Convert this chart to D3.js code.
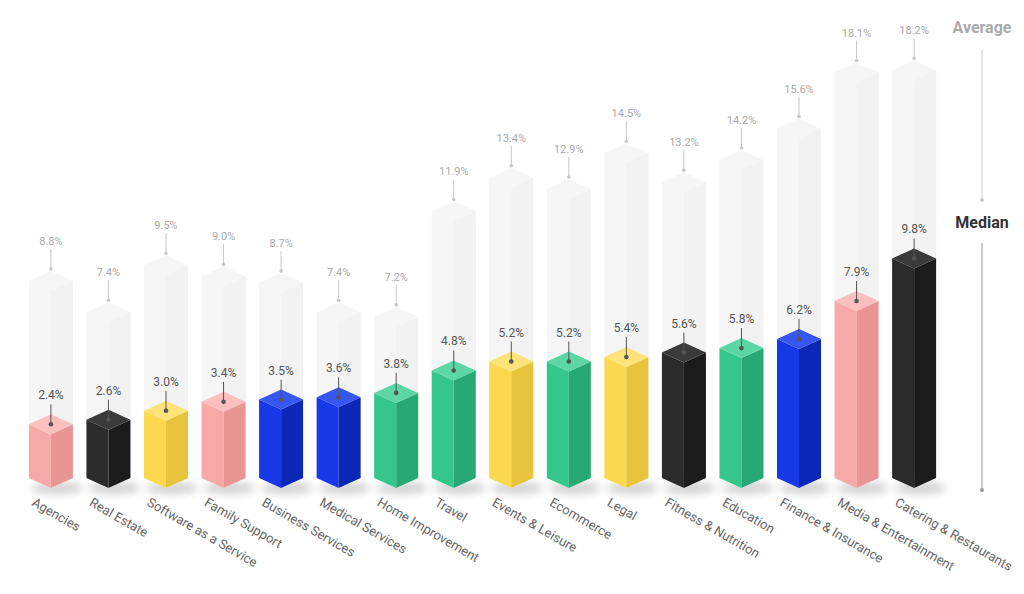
<!DOCTYPE html>
<html><head><meta charset="utf-8">
<script src="https://cdn.jsdelivr.net/npm/d3@7"></script>
<style>body{margin:0;background:#fff}svg{display:block;font-family:Roboto,"Open Sans",sans-serif}</style>
</head><body><div id="chart"></div>
<script>
const categories= ['Agencies','Real Estate','Software as a Service','Family Support','Business Services','Medical Services','Home Improvement','Travel','Events & Leisure','Ecommerce','Legal','Fitness & Nutrition','Education','Finance & Insurance','Media & Entertainment','Catering & Restaurants'];
const medians= [2.4,2.6,3.0,3.4,3.5,3.6,3.8,4.8,5.2,5.2,5.4,5.6,5.8,6.2,7.9,9.8];
const averages= [8.8,7.4,9.5,9.0,8.7,7.4,7.2,11.9,13.4,12.9,14.5,13.2,14.2,15.6,18.1,18.2];
const colorKeys= ['pink','black','yellow','pink','blue','blue','green','green','yellow','green','yellow','black','green','blue','pink','black'];

const PALETTE= {
  pink:   ['#f7a9a7','#e99593','#fbc0be'],
  black:  ['#2b2b2b','#1b1b1b','#3a3a3a'],
  yellow: ['#fbd84e','#e8c43c','#fde37a'],
  blue:   ['#1638e6','#0b27b5','#3556f0'],
  green:  ['#35c68c','#27a874','#5cd6a4'],
};

const W= 1024, H= 594;
const svg= d3.select('#chart').append('svg').attr('width', W).attr('height', H);

const x= d3.scaleBand().domain(categories).range([25, 940]).paddingInner(0.2).paddingOuter(0.05);
const y= d3.scaleLinear().domain([0, 20]).range([478, 30]);
const HW= 22, DH= 10;

const defs= svg.append('defs');
const f= defs.append('filter').attr('id','sh').attr('x','-50%').attr('y','-50%').attr('width','200%').attr('height','200%');
f.append('feGaussianBlur').attr('stdDeviation', 4);

const g= svg.selectAll('g.bar').data(categories.map((c,i)=>({c, m: medians[i], a: averages[i], k: colorKeys[i]})))
  .join('g').attr('class','bar')
  .attr('transform', d => `translate(${x(d.c)+x.bandwidth()/2},0)`);

// shadow
g.append('ellipse').attr('cx', 6).attr('cy', y(0)+10).attr('rx', 26).attr('ry', 6)
  .attr('fill','#000').attr('opacity',0.18).attr('filter','url(#sh)');

// average ghost bar
g.append('path').attr('fill','#f6f6f6')
  .attr('d', d => `M${-HW},${y(d.a)} L0,${y(d.a)-DH} L${HW},${y(d.a)} L${HW},${y(0)} L0,${y(0)+DH} L${-HW},${y(0)} Z`);
g.append('path').attr('fill','#f2f2f2')
  .attr('d', d => `M0,${y(d.a)+DH} L${HW},${y(d.a)} L${HW},${y(0)} L0,${y(0)+DH} Z`);

// median bar faces
const face= (d, side) => {
  const t= y(d.m), b= y(0);
  return side < 0
    ? `M${-HW},${t} L0,${t+DH} L0,${b+DH} L${-HW},${b} Z`
    : `M0,${t+DH} L${HW},${t} L${HW},${b} L0,${b+DH} Z`;
};
g.append('path').attr('d', d => face(d,-1)).attr('fill', d => PALETTE[d.k][0]);
g.append('path').attr('d', d => face(d,1)).attr('fill', d => PALETTE[d.k][1]);
g.append('path').attr('fill', d => PALETTE[d.k][2])
  .attr('d', d => { const t= y(d.m); return `M${-HW},${t} L0,${t-DH} L${HW},${t} L0,${t+DH} Z`; });

// median leader + label
g.append('line').attr('x1',0).attr('x2',0).attr('y1', d => y(d.m)-20).attr('y2', d => y(d.m))
  .attr('stroke','#555').attr('stroke-width',1);
g.append('circle').attr('r',2.3).attr('cy', d => y(d.m)).attr('fill','#555');
g.append('text').attr('text-anchor','middle').attr('y', d => y(d.m)-25)
  .attr('font-size',12).attr('fill','#555').text(d => d.m.toFixed(1)+'%');

// average leader + label
g.append('line').attr('x1',0).attr('x2',0).attr('y1', d => y(d.a)-32).attr('y2', d => y(d.a)-12)
  .attr('stroke','#c8c8c8').attr('stroke-width',1);
g.append('circle').attr('r',1.8).attr('cy', d => y(d.a)-12).attr('fill','#c8c8c8');
g.append('text').attr('text-anchor','middle').attr('y', d => y(d.a)-36)
  .attr('font-size',11).attr('fill','#aaa').text(d => d.a.toFixed(1)+'%');

// category labels
g.append('text').attr('transform', `translate(-20,505) rotate(30)`)
  .attr('font-size',13).attr('fill','#666').text(d => d.c);

// legend
const lx= 982;
svg.append('text').attr('x', lx).attr('y', 33).attr('text-anchor','middle')
  .attr('font-size',16).attr('font-weight',700).attr('fill','#aaa').text('Average');
svg.append('line').attr('x1',lx).attr('x2',lx).attr('y1',50).attr('y2',200).attr('stroke','#ccc');
svg.append('circle').attr('cx',lx).attr('cy',200).attr('r',2).attr('fill','#ccc');
svg.append('text').attr('x', lx).attr('y', 228).attr('text-anchor','middle')
  .attr('font-size',16).attr('font-weight',700).attr('fill','#333').text('Median');
svg.append('line').attr('x1',lx).attr('x2',lx).attr('y1',243).attr('y2',490).attr('stroke','#999');
svg.append('circle').attr('cx',lx).attr('cy',490).attr('r',2).attr('fill','#999');
</script></body></html>
